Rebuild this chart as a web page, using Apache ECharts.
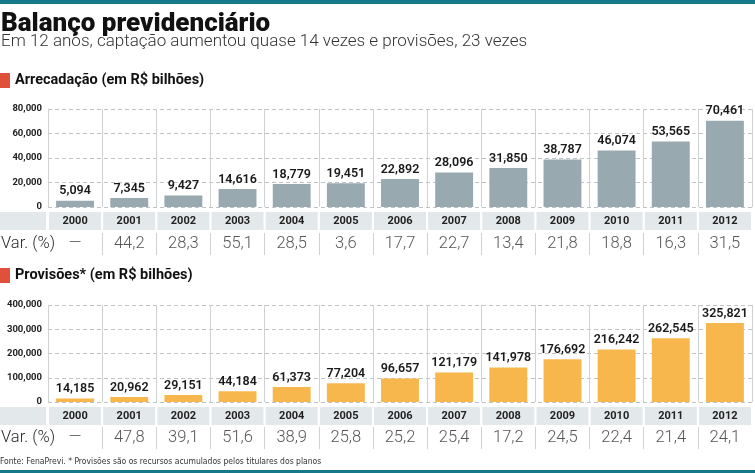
<!DOCTYPE html>
<html>
<head>
<meta charset="utf-8">
<script src="https://cdn.jsdelivr.net/npm/echarts@6/dist/echarts.min.js"></script>
<style>
html,body{margin:0;padding:0;background:#fff;}
#chart{width:755px;height:473px;}
</style>
</head>
<body>
<div id="chart"></div>
<script>
var years = ['2000','2001','2002','2003','2004','2005','2006','2007','2008','2009','2010','2011','2012'];
var arrecadacao = [5094, 7345, 9427, 14616, 18779, 19451, 22892, 28096, 31850, 38787, 46074, 53565, 70461];
var varArrecadacao = ['—','44,2','28,3','55,1','28,5','3,6','17,7','22,7','13,4','21,8','18,8','16,3','31,5'];
var provisoes = [14185, 20962, 29151, 44184, 61373, 77204, 96657, 121179, 141978, 176692, 216242, 262545, 325821];
var varProvisoes = ['—','47,8','39,1','51,6','38,9','25,8','25,2','25,4','17,2','24,5','22,4','21,4','24,1'];
var topTicks = {min: 0, max: 80000, interval: 20000};
var bottomTicks = {min: 0, max: 400000, interval: 100000};

var FONT = 'Roboto, "Noto Sans", sans-serif';
function fmt(v){ return Number(v).toLocaleString('en-US'); }

var chart = echarts.init(document.getElementById('chart'), null, {renderer:'canvas'});

var L = 48, R = 3;
var grids = [
  {left: L, right: R, top: 109, height: 98},   // bar top
  {left: L, right: R, top: 233, height: 22},   // var top
  {left: L, right: R, top: 305, height: 97},   // bar bottom
  {left: L, right: R, top: 427, height: 22}    // var bottom
];

function barX(gi){
  return {
    type: 'category', gridIndex: gi, data: years, boundaryGap: true,
    axisLine: {show: false}, axisTick: {show: false},
    splitLine: {show: true, lineStyle: {color: '#cfd2d4', width: 1}},
    axisLabel: {
      show: true, interval: 0, margin: 5,
      fontFamily: FONT, fontWeight: 'bold', fontSize: 11, color: '#222',
      backgroundColor: '#e3e8ea', width: 52, height: 18, lineHeight: 18, align: 'center'
    }
  };
}
function barY(gi, t){
  return {
    type: 'value', gridIndex: gi, min: t.min, max: t.max, interval: t.interval,
    axisLine: {show: false}, axisTick: {show: false},
    splitLine: {show: true, lineStyle: {color: '#bfc3c5', type: [4, 3], width: 1}},
    axisLabel: {fontFamily: FONT, fontWeight: 'bold', fontSize: 9.5, color: '#222', margin: 6, formatter: fmt}
  };
}
function varX(gi){
  return {
    type: 'category', gridIndex: gi, data: years, boundaryGap: true,
    axisLine: {show: false}, axisTick: {show: false}, axisLabel: {show: false},
    splitLine: {show: true, showMinLine: false, showMaxLine: false, lineStyle: {color: '#cfd2d4', width: 1}}
  };
}
function varY(gi){
  return {type: 'value', gridIndex: gi, min: 0, max: 1, show: false, splitLine: {show: false}};
}
function barSeries(gi, data, color){
  return {
    type: 'bar', xAxisIndex: gi, yAxisIndex: gi, data: data, barWidth: '70%',
    itemStyle: {color: color},
    label: {show: true, position: 'top', distance: 3, fontFamily: FONT, fontWeight: 600, fontSize: 12.5, color: '#1a1a1a',
      formatter: function(p){ return fmt(p.value); }}
  };
}
function varSeries(gi, labels){
  return {
    type: 'scatter', xAxisIndex: gi, yAxisIndex: gi, symbolSize: 0, silent: true,
    data: labels.map(function(v, i){ return {value: [i, 0.5], name: v}; }),
    label: {show: true, position: 'inside', formatter: '{b}', fontFamily: FONT, fontWeight: 300, fontSize: 16.5, color: '#2a2a2a'}
  };
}

var option = {
  backgroundColor: '#fff',
  animation: false,
  grid: grids,
  xAxis: [barX(0), varX(1), barX(2), varX(3)],
  yAxis: [barY(0, topTicks), varY(1), barY(2, bottomTicks), varY(3)],
  series: [
    barSeries(0, arrecadacao, '#98aab0'),
    varSeries(1, varArrecadacao),
    barSeries(2, provisoes, '#f8b74c'),
    varSeries(3, varProvisoes)
  ],
  graphic: [
    {type: 'rect', shape: {x: 0, y: 0, width: 755, height: 4}, style: {fill: '#16798a'}},
    {type: 'rect', shape: {x: 0, y: 470, width: 755, height: 3}, style: {fill: '#16798a'}},
    {type: 'text', x: 1, y: 24, style: {text: 'Balanço previdenciário', font: '900 26px ' + FONT, fill: '#111', verticalAlign: 'middle'}},
    {type: 'text', x: 1, y: 42, style: {text: 'Em 12 anos, captação aumentou quase 14 vezes e provisões, 23 vezes', font: '300 17px ' + FONT, fill: '#333', verticalAlign: 'middle'}},
    {type: 'rect', shape: {x: 0, y: 73, width: 10, height: 15}, style: {fill: '#e0503a'}},
    {type: 'text', x: 15, y: 80, style: {text: 'Arrecadação (em R$ bilhões)', font: 'bold 14.5px ' + FONT, fill: '#111', verticalAlign: 'middle'}},
    {type: 'rect', shape: {x: 0, y: 212, width: 46, height: 18}, style: {fill: '#e3e8ea'}},
    {type: 'text', x: 1, y: 244, style: {text: 'Var. (%)', font: '300 16.5px ' + FONT, fill: '#2a2a2a', verticalAlign: 'middle'}},
    {type: 'rect', shape: {x: 0, y: 268, width: 10, height: 15}, style: {fill: '#e0503a'}},
    {type: 'text', x: 15, y: 275, style: {text: 'Provisões* (em R$ bilhões)', font: 'bold 14.5px ' + FONT, fill: '#111', verticalAlign: 'middle'}},
    {type: 'rect', shape: {x: 0, y: 407, width: 46, height: 18}, style: {fill: '#e3e8ea'}},
    {type: 'text', x: 1, y: 438, style: {text: 'Var. (%)', font: '300 16.5px ' + FONT, fill: '#2a2a2a', verticalAlign: 'middle'}},
    {type: 'text', x: 0, y: 462, style: {text: 'Fonte: FenaPrevi. * Provisões são os recursos acumulados pelos titulares dos planos', font: '8.5px "Liberation Sans Narrow", "DejaVu Sans Condensed", sans-serif', fill: '#333', verticalAlign: 'middle'}}
  ]
};
chart.setOption(option);
</script>
</body>
</html>
